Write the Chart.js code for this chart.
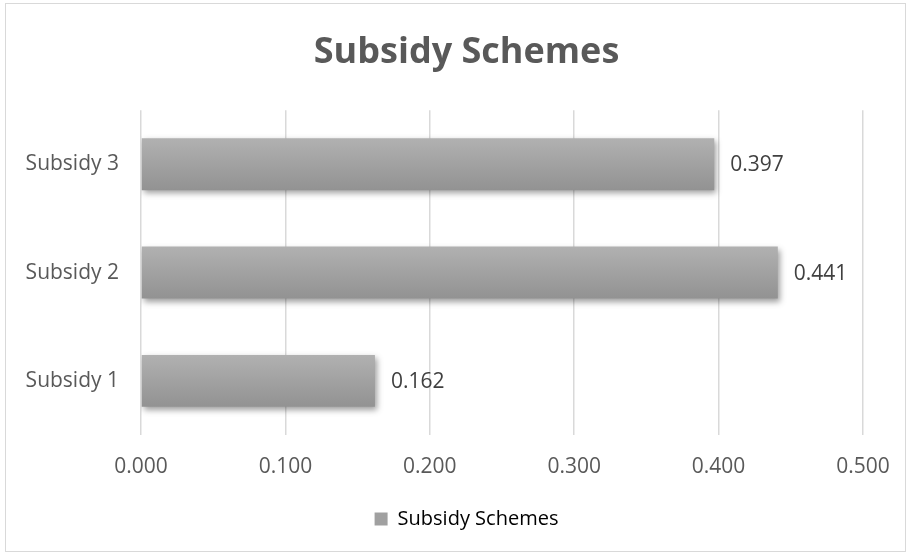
<!DOCTYPE html>
<html>
<head>
<meta charset="utf-8">
<script src="https://cdn.jsdelivr.net/npm/chart.js@4/dist/chart.umd.min.js"></script>
<style>
  html, body { margin: 0; padding: 0; background: #fff; }
  #frame {
    position: absolute;
    left: 5px;
    top: 3px;
    width: 899px;
    height: 547px;
    border: 1px solid #d9d9d9;
  }
  canvas { display: block; }
</style>
</head>
<body>
<div id="frame"><canvas id="chart" width="899" height="547"></canvas></div>
<script>
const categories = ["Subsidy 1", "Subsidy 2", "Subsidy 3"];
const schemeValues = [0.162, 0.441, 0.397];
const seriesName = "Subsidy Schemes";
const tickMin = 0;
const tickMax = 0.5;
const tickStep = 0.1;

const FONT = "'Open Sans', Lato, sans-serif";
const BAR_PCT = 0.48;
const PAD_LEFT = 64;

function barGradient(context) {
  const chart = context.chart;
  const yScale = chart.scales.y;
  if (!chart.chartArea || !yScale) return "#a3a3a3";
  const cy = yScale.getPixelForValue(context.dataIndex);
  const band = Math.abs(yScale.getPixelForValue(1) - yScale.getPixelForValue(0));
  const half = (band * BAR_PCT) / 2;
  if (!isFinite(cy) || !isFinite(half) || half <= 0) return "#a3a3a3";
  const g = chart.ctx.createLinearGradient(0, cy - half, 0, cy + half);
  g.addColorStop(0, "#b1b1b1");
  g.addColorStop(1, "#929292");
  return g;
}

// let the category labels spill into the left padding instead of being clipped
const widenLabelArea = {
  id: "widenLabelArea",
  afterLayout(chart) {
    chart.scales.y.left = 0;
  },
};

// soft drop shadow under the bars
const barShadow = {
  id: "barShadow",
  beforeDatasetsDraw(chart) {
    const ctx = chart.ctx;
    ctx.save();
    ctx.shadowColor = "rgba(0,0,0,0.38)";
    ctx.shadowBlur = 6;
    ctx.shadowOffsetX = 2;
    ctx.shadowOffsetY = 3;
  },
  afterDatasetsDraw(chart) {
    chart.ctx.restore();
  },
};

// value text at the end of each bar
const valueLabels = {
  id: "valueLabels",
  afterDraw(chart) {
    const ctx = chart.ctx;
    const meta = chart.getDatasetMeta(0);
    ctx.save();
    ctx.font = "21px " + FONT;
    ctx.fillStyle = "#404040";
    ctx.textAlign = "left";
    ctx.textBaseline = "middle";
    meta.data.forEach((bar, i) => {
      ctx.fillText(schemeValues[i].toFixed(3), bar.x + 16, bar.y + 1);
    });
    ctx.restore();
  },
};

const ctx = document.getElementById("chart");
new Chart(ctx, {
  type: "bar",
  data: {
    labels: categories,
    datasets: [
      {
        label: seriesName,
        data: schemeValues,
        backgroundColor: barGradient,
        borderWidth: 0,
        categoryPercentage: 1,
        barPercentage: BAR_PCT,
      },
    ],
  },
  options: {
    indexAxis: "y",
    responsive: false,
    animation: false,
    layout: {
      padding: { left: PAD_LEFT, right: 42, top: 0, bottom: 12 },
    },
    plugins: {
      title: {
        display: true,
        text: seriesName,
        color: "#595959",
        font: { family: FONT, size: 36, weight: "bold" },
        padding: { top: 27, bottom: 36 },
      },
      legend: {
        position: "bottom",
        labels: {
          color: "#595959",
          font: { family: FONT, size: 20 },
          boxWidth: 13,
          boxHeight: 13,
          padding: 4,
          generateLabels: () => [
            {
              text: seriesName,
              fillStyle: "#a0a0a0",
              strokeStyle: "#a0a0a0",
              lineWidth: 0,
              datasetIndex: 0,
            },
          ],
        },
      },
      tooltip: { enabled: false },
    },
    scales: {
      x: {
        min: tickMin,
        max: tickMax,
        ticks: {
          stepSize: tickStep,
          color: "#595959",
          font: { family: FONT, size: 21 },
          padding: 19,
          callback: (v) => Number(v).toFixed(3),
        },
        grid: {
          color: "#d9d9d9",
          lineWidth: 1.5,
          drawTicks: false,
        },
        border: { display: false },
        afterFit(scale) {
          scale.height = 70;
          scale.paddingRight = 0;
          scale.paddingLeft = 0;
        },
      },
      y: {
        reverse: true,
        ticks: {
          color: "#595959",
          font: { family: FONT, size: 21 },
          padding: 14,
        },
        grid: { display: false },
        border: { display: false },
        afterFit(scale) {
          scale.width = 135 - PAD_LEFT;
        },
      },
    },
  },
  plugins: [widenLabelArea, barShadow, valueLabels],
});
</script>
</body>
</html>
